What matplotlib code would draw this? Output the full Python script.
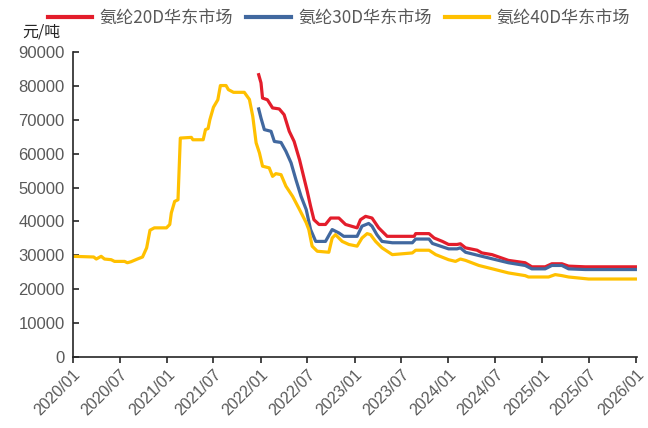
import matplotlib
matplotlib.use("Agg")
import matplotlib.pyplot as plt
import matplotlib.dates as mdates
import pandas as pd

plt.rcParams['font.family'] = ['Liberation Sans', 'Noto Sans CJK SC', 'DejaVu Sans']

series_names = ["氨纶20D华东市场", "氨纶30D华东市场", "氨纶40D华东市场"]
colors = ["#E31D2B", "#41689F", "#FFC000"]

dates_20d = ["2021-12-24", "2022-01-02", "2022-01-08", "2022-01-27", "2022-02-16", "2022-03-14",
             "2022-04-02", "2022-04-22", "2022-05-11", "2022-06-01", "2022-06-20", "2022-07-01",
             "2022-07-14", "2022-07-27", "2022-08-16", "2022-09-10", "2022-09-30", "2022-11-01",
             "2022-11-27", "2023-01-11", "2023-01-24", "2023-02-13", "2023-03-10", "2023-04-05",
             "2023-05-08", "2023-08-21", "2023-08-27", "2023-10-18", "2023-11-07", "2023-12-09",
             "2024-01-02", "2024-02-04", "2024-02-17", "2024-03-08", "2024-04-22", "2024-05-11",
             "2024-06-19", "2024-08-22", "2024-10-26", "2024-11-21", "2025-01-12", "2025-02-07",
             "2025-03-18", "2025-04-13", "2025-06-17", "2025-12-29"]
values_20d = [83300, 80900, 76400, 75900, 73500, 73200,
              71500, 66600, 63600, 58200, 52300, 48900,
              44500, 40500, 39100, 39100, 41000, 41000,
              39100, 38100, 40500, 41500, 41000, 38100,
              35600, 35600, 36400, 36400, 35100, 34100,
              33200, 33200, 33400, 32200, 31500, 30700,
              30200, 28500, 27800, 26600, 26600, 27500,
              27500, 26800, 26600, 26600]

dates_30d = ["2021-12-24", "2022-01-02", "2022-01-15", "2022-02-10", "2022-02-23", "2022-03-21",
             "2022-04-09", "2022-04-29", "2022-05-18", "2022-06-07", "2022-06-27", "2022-07-14",
             "2022-08-03", "2022-09-10", "2022-10-06", "2022-11-01", "2022-11-20", "2023-01-11",
             "2023-01-30", "2023-02-25", "2023-03-10", "2023-03-29", "2023-04-18", "2023-05-28",
             "2023-08-14", "2023-08-27", "2023-10-18", "2023-10-31", "2024-01-02", "2024-02-04",
             "2024-02-17", "2024-03-08", "2024-05-11", "2024-08-22", "2024-10-26", "2024-11-21",
             "2025-01-12", "2025-02-07", "2025-03-18", "2025-04-13", "2025-06-17", "2025-12-29"]
values_30d = [73200, 70500, 67100, 66600, 63600, 63300,
              60700, 57300, 52300, 47400, 43500, 37600,
              34100, 34100, 37600, 36600, 35600, 35600,
              38600, 39400, 38600, 36100, 34100, 33700,
              33700, 34800, 34800, 33500, 31900, 31900,
              32200, 30900, 29700, 27800, 27000, 26000,
              26000, 27000, 27000, 26000, 25800, 25800]

dates_40d = ["2020-01-01", "2020-03-22", "2020-04-01", "2020-04-20", "2020-05-03", "2020-05-29",
             "2020-06-11", "2020-07-20", "2020-07-31", "2020-08-14", "2020-09-08", "2020-09-28",
             "2020-10-14", "2020-10-27", "2020-11-13", "2020-12-30", "2021-01-12", "2021-01-18",
             "2021-01-31", "2021-02-13", "2021-02-22", "2021-04-06", "2021-04-12", "2021-05-22",
             "2021-05-31", "2021-06-10", "2021-06-17", "2021-07-01", "2021-07-18", "2021-07-28",
             "2021-08-19", "2021-08-28", "2021-09-17", "2021-10-29", "2021-11-18", "2021-12-01",
             "2021-12-14", "2021-12-27", "2022-01-08", "2022-02-03", "2022-02-16", "2022-03-01",
             "2022-03-21", "2022-04-09", "2022-05-05", "2022-06-01", "2022-06-27", "2022-07-07",
             "2022-07-20", "2022-08-09", "2022-09-23", "2022-10-06", "2022-10-19", "2022-11-01",
             "2022-11-14", "2022-12-10", "2023-01-11", "2023-01-30", "2023-02-19", "2023-03-04",
             "2023-03-24", "2023-04-18", "2023-05-28", "2023-08-14", "2023-08-27", "2023-10-18",
             "2023-11-13", "2024-01-02", "2024-01-29", "2024-02-17", "2024-03-08", "2024-04-29",
             "2024-07-01", "2024-08-22", "2024-10-26", "2024-11-08", "2025-01-25", "2025-02-20",
             "2025-03-18", "2025-04-13", "2025-06-30", "2025-12-29"]
values_40d = [29700, 29500, 28900, 29700, 28900, 28700,
              28200, 28200, 27800, 28100, 28900, 29500,
              32200, 37400, 38100, 38100, 39100, 42500,
              45900, 46400, 64600, 64800, 64100, 64100,
              67100, 67400, 70000, 73700, 75900, 80100,
              80100, 78900, 78100, 78100, 76000, 71000,
              63200, 60200, 56300, 55800, 53300, 54100,
              53800, 50400, 47400, 43500, 39600, 37600,
              32700, 31200, 30900, 35100, 36100, 35100,
              34100, 33200, 32700, 35100, 36400, 36100,
              34100, 32200, 30200, 30700, 31500, 31500,
              30200, 28700, 28200, 28900, 28500, 27000,
              25800, 24800, 24000, 23600, 23600, 24300,
              24000, 23600, 23000, 23000]

y_ticks = [0, 10000, 20000, 30000, 40000, 50000, 60000, 70000, 80000, 90000]
x_tick_labels = ["2020/01", "2020/07", "2021/01", "2021/07", "2022/01", "2022/07", "2023/01",
                 "2023/07", "2024/01", "2024/07", "2025/01", "2025/07", "2026/01"]

fig = plt.figure(figsize=(6.48, 4.28), dpi=100)
ax = fig.add_axes([0.1125, 0.166, 0.87, 0.7125])

all_dates = [dates_20d, dates_30d, dates_40d]
all_vals = [values_20d, values_30d, values_40d]
for name, c, d, v in zip(series_names, colors, all_dates, all_vals):
    ax.plot(pd.to_datetime(d), v, color=c, lw=2.3, label=name, solid_joinstyle='round')

ax.set_ylim(0, 90000)
ax.set_yticks(y_ticks)
ax.set_yticklabels([str(t) for t in y_ticks])
tick_dates = pd.to_datetime([s.replace("/", "-") + "-01" for s in x_tick_labels])
ax.set_xticks(tick_dates)
ax.set_xticklabels(x_tick_labels, rotation=45, ha='right', rotation_mode='anchor')
ax.set_xlim(pd.Timestamp("2020-01-01"), pd.Timestamp("2026-01-03"))

for s in ['top', 'right']:
    ax.spines[s].set_visible(False)
for s in ['left', 'bottom']:
    ax.spines[s].set_color('#262626')
    ax.spines[s].set_linewidth(1.2)
ax.tick_params(axis='y', direction='in', length=4, width=1.2, colors='#262626', labelcolor='#595959', labelsize=12, pad=6)
ax.tick_params(axis='x', direction='out', length=4, width=1.2, colors='#262626', labelcolor='#595959', labelsize=11.5, pad=3)

fig.text(0.034, 0.925, "元/吨", fontsize=11.5, color='#262626',
         family=['Noto Sans CJK SC', 'DejaVu Sans'], va='center', ha='left')

leg = fig.legend(loc='center', bbox_to_anchor=(0.523, 0.958), ncol=3, frameon=False,
                 handlelength=2.6, handletextpad=0.45, columnspacing=0.75,
                 prop={'family': ['Noto Sans CJK SC', 'DejaVu Sans'], 'size': 12.3})
for t in leg.get_texts():
    t.set_color('#595959')
for l in leg.get_lines():
    l.set_linewidth(3)

fig.savefig("out.png", dpi=100)
